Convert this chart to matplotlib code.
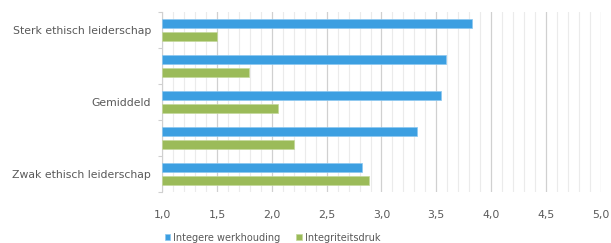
import numpy as np
import matplotlib
matplotlib.use("Agg")
import matplotlib.pyplot as plt
from matplotlib.ticker import MultipleLocator, FixedLocator

# data
categories = ["Sterk ethisch leiderschap", "", "Gemiddeld", "", "Zwak ethisch leiderschap"]
werkhouding = [3.83, 3.59, 3.54, 3.32, 2.82]
integriteitsdruk = [1.50, 1.79, 2.06, 2.20, 2.89]
xticks = [1.0, 1.5, 2.0, 2.5, 3.0, 3.5, 4.0, 4.5, 5.0]

blue = "#3C9FE1"
green = "#9BBB59"
txt = "#595959"

fig = plt.figure(figsize=(6.11, 2.43), dpi=100)
ax = fig.add_axes([0.2656, 0.210, 0.7175, 0.741])

y = np.arange(len(categories))
h = 0.27
ax.barh(y - 0.18, np.array(werkhouding) - 1.0, left=1.0, height=h, color=blue,
        edgecolor="#8cc8f0", linewidth=0.5, label="Integere werkhouding", zorder=3)
ax.barh(y + 0.18, np.array(integriteitsdruk) - 1.0, left=1.0, height=h, color=green,
        edgecolor="#c4d89c", linewidth=0.5, label="Integriteitsdruk", zorder=3)

ax.set_xlim(1.0, 5.0)
ax.set_ylim(len(categories) - 0.5, -0.5)

# gridlines
ax.xaxis.set_major_locator(FixedLocator(xticks))
ax.xaxis.set_minor_locator(MultipleLocator(0.1))
ax.grid(axis="x", which="major", color="#d0d0d0", linewidth=0.9, zorder=0)
ax.grid(axis="x", which="minor", color="#ebebeb", linewidth=0.8, zorder=0)
ax.set_xticklabels([f"{v:.1f}".replace(".", ",") for v in xticks])
ax.tick_params(axis="x", which="both", length=0, colors=txt, labelsize=7.8, pad=13)

# y axis: labels at category centers, tick marks at boundaries
ax.set_yticks(y)
ax.set_yticklabels(categories)
ax.yaxis.set_minor_locator(FixedLocator(np.arange(-0.5, len(categories), 1.0)))
ax.tick_params(axis="y", which="major", length=0, colors=txt, labelsize=7.8, pad=8)
ax.tick_params(axis="y", which="minor", length=3, color="#d0d0d0", width=0.8)

for s in ["top", "right", "bottom"]:
    ax.spines[s].set_visible(False)
ax.spines["left"].set_color("#d0d0d0")
ax.spines["left"].set_linewidth(0.8)

leg = fig.legend(loc="lower center", bbox_to_anchor=(0.446, -0.035), ncol=2, frameon=False,
                 fontsize=7, handlelength=0.6, handleheight=0.6, handletextpad=0.3,
                 columnspacing=1.6)
for t in leg.get_texts():
    t.set_color(txt)

fig.savefig("out.png", dpi=100)
